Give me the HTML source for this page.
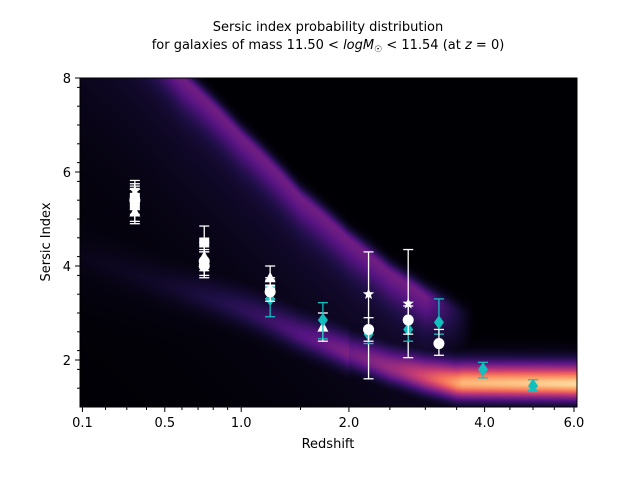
<!DOCTYPE html>
<html><head><meta charset="utf-8"><style>
body{margin:0;background:#fff;width:640px;height:480px;overflow:hidden;font-family:"DejaVu Sans","Liberation Sans",sans-serif;}
#wrap{position:relative;width:640px;height:480px;}
canvas{position:absolute;left:80px;top:78px;}
svg{position:absolute;left:0;top:0;}
</style></head><body>
<div id="wrap">
<canvas id="hm" width="497" height="329"></canvas>
<svg id="ch" width="640" height="480" font-family="DejaVu Sans, Liberation Sans, sans-serif">
<text x="328" y="31" text-anchor="middle" font-size="13">Sersic index probability distribution</text>
<text x="328" y="49" text-anchor="middle" font-size="13">for galaxies of mass 11.50 &lt; <tspan font-style="italic">logM</tspan><tspan font-size="9" dy="3">☉</tspan><tspan dy="-3"> &lt; 11.54 (at </tspan><tspan font-style="italic">z</tspan> = 0)</text>
<text x="328" y="448" text-anchor="middle" font-size="13">Redshift</text>
<text transform="translate(50,242) rotate(-90)" text-anchor="middle" font-size="13">Sersic Index</text>
<g id="axes"></g><g id="marks"></g>
</svg></div>
<script>
// data
const groupZ=[0.34,0.74,1.23,1.72,2.23,2.75,3.21,3.97,5.0];
const whiteSq=[[0.34,5.3,4.95,5.65],[0.34,5.45,5.2,5.75],[0.74,4.5,4.3,4.85],[1.23,3.5,3.3,3.75]];
const whiteCirc=[[0.34,5.4,5.1,5.7],[0.74,4.0,3.75,4.3],[0.74,4.1,3.8,4.35],[1.23,3.45,3.25,3.7],[2.23,2.65,2.4,2.9],[2.75,2.85,2.55,3.15],[3.21,2.35,2.1,2.65]];
const whiteTri=[[0.34,5.15,4.9,5.45],[0.74,4.2,3.9,4.5],[1.23,3.75,3.45,4.0],[1.72,2.7,2.4,3.0]];
const whiteStar=[[0.34,5.6,5.3,5.82],[2.23,3.4,1.6,4.3],[2.75,3.2,2.05,4.35]];
const cyanDia=[[1.23,3.3,2.92,3.55],[1.72,2.85,2.45,3.22],[2.23,2.55,2.35,2.62],[2.75,2.65,2.4,2.8],[3.21,2.8,2.55,3.3],[3.97,1.8,1.62,1.95],[5.0,1.45,1.35,1.58]];
const xTicks=[0.1,0.5,1.0,2.0,4.0,6.0];
const xTickLabels=["0.1","0.5","1.0","2.0","4.0","6.0"];
const xMinor=[0.2,0.3,0.4,0.6,0.7,0.8,0.9,1.5,2.5,3.0,3.5,4.5,5.0,5.5];
const yTicks=[2,4,6,8];
const upperBand=[[0.09,10.2],[0.6,8.0],[1.0,6.75],[1.5,5.45],[2.0,4.55],[2.5,3.85],[3.0,3.35],[3.6,2.95]];
const lowerBand=[[0.09,4.2],[0.5,3.6],[1.0,3.1],[1.5,2.55],[2.0,2.15],[2.5,1.85],[3.0,1.65],[3.5,1.52],[6.1,1.5]];
const lowerAmp=[[0.09,0.0],[0.5,0.04],[1.2,0.18],[2.0,0.36],[2.6,0.5],[3.0,0.65],[3.6,0.9],[6.1,0.95]];
const X0=80,X1=577,Y0=407,Y1=78;
const lmin=Math.log10(1.09),lmax=Math.log10(7.08);
function xs(z){return X0+(Math.log10(1+z)-lmin)/(lmax-lmin)*(X1-X0);}
function ys(n){return Y0-(n-1)/7*(Y0-Y1);}
const NS="http://www.w3.org/2000/svg";
function el(t,a,p){const e=document.createElementNS(NS,t);for(const k in a)e.setAttribute(k,a[k]);p.appendChild(e);return e;}
const ax=document.getElementById('axes'),mk=document.getElementById('marks');
// heatmap
(function(){
 const c=document.getElementById('hm'),ctx=c.getContext('2d');const im=ctx.createImageData(497,329);
 function interp(b,z){for(let i=0;i<b.length-1;i++){if(z<=b[i+1][0]){const t=(z-b[i][0])/(b[i+1][0]-b[i][0]);return b[i][1]+t*(b[i+1][1]-b[i][1]);}}return b[b.length-1][1];}
 const mag=[[0,0,0,4],[0.15,30,15,70],[0.3,85,20,130],[0.45,140,40,130],[0.6,200,60,115],[0.75,245,110,90],[0.88,252,170,110],[1,252,253,191]];
 function cmap(v){v=Math.max(0,Math.min(1,v));for(let i=0;i<mag.length-1;i++){if(v<=mag[i+1][0]){const t=(v-mag[i][0])/(mag[i+1][0]-mag[i][0]);return [0,1,2].map(k=>mag[i][k+1]+t*(mag[i+1][k+1]-mag[i][k+1]));}}return mag[mag.length-1].slice(1);}
 for(let px=0;px<497;px++){const l=lmin+(px+0.5)/497*(lmax-lmin);const z=Math.pow(10,l)-1;
  const uy=ys(interp(upperBand,z))-Y1, ly=ys(interp(lowerBand,z))-Y1;
  const ua=z<3.0?1:Math.max(0,1-(z-3.0)/0.8);
  const la=interp(lowerAmp,z);
  for(let py=0;py<329;py++){
   let d=py-uy, u;
   if(d<0)u=Math.exp(-d*d/(2*8*8));else u=Math.exp(-d*d/(2*20*20))*0.6+0.4*Math.exp(-d/110);
   u*=0.37*ua;
   let e=py-ly; let lo=Math.exp(-e*e/(2*(e<0?14:11)**2))*la;
   lo+=0.05*Math.exp(-Math.abs(e)/40)*(z<2?1:0);
   const v=Math.max(u,lo);
   const col=cmap(v);const i=(py*497+px)*4;im.data[i]=col[0];im.data[i+1]=col[1];im.data[i+2]=col[2];im.data[i+3]=255;}}
 ctx.putImageData(im,0,0);
})();
// axes frame
el('rect',{x:X0,y:Y1,width:X1-X0,height:Y0-Y1,fill:'none',stroke:'#000','stroke-width':1},ax);
xTicks.forEach((z,i)=>{const x=xs(z);el('line',{x1:x,x2:x,y1:Y0,y2:Y0+5,stroke:'#000'},ax);
 const t=el('text',{x:x,y:Y0+20,'text-anchor':'middle','font-size':13},ax);t.textContent=xTickLabels[i];
 
 });
xMinor.forEach(z=>{const x=xs(z);el('line',{x1:x,x2:x,y1:Y0,y2:Y0+3,stroke:'#000'},ax);});
yTicks.forEach(n=>{const y=ys(n);el('line',{x1:X0-5,x2:X0,y1:y,y2:y,stroke:'#000'},ax);
 const t=el('text',{x:X0-9,y:y+5,'text-anchor':'end','font-size':13},ax);t.textContent=n;
 
 });
for(let n=1.4;n<8;n+=0.4){const y=ys(n);el('line',{x1:X0-3,x2:X0,y1:y,y2:y,stroke:'#000'},ax);}
// markers
function err(p,c){const x=xs(p[0]);el('line',{x1:x,x2:x,y1:ys(p[2]),y2:ys(p[3]),stroke:c,'stroke-width':1.3},mk);
 [p[2],p[3]].forEach(v=>el('line',{x1:x-5,x2:x+5,y1:ys(v),y2:ys(v),stroke:c,'stroke-width':1.3},mk));}
function draw(arr,c,shape,name){arr.forEach(p=>{err(p,c);const x=xs(p[0]),y=ys(p[1]);let m;
 if(shape==='sq')m=el('rect',{x:x-5,y:y-5,width:10,height:10,fill:c},mk);
 else if(shape==='ci')m=el('circle',{cx:x,cy:y,r:5.5,fill:c},mk);
 else if(shape==='tr')m=el('polygon',{points:`${x},${y-6} ${x-5.5},${y+4.5} ${x+5.5},${y+4.5}`,fill:c},mk);
 else if(shape==='st'){let s='';for(let k=0;k<10;k++){const r=k%2?2.5:6,a=-Math.PI/2+k*Math.PI/5;s+=`${x+r*Math.cos(a)},${y+r*Math.sin(a)} `;}m=el('polygon',{points:s,fill:c},mk);}
 else m=el('polygon',{points:`${x},${y-7} ${x+5},${y} ${x},${y+7} ${x-5},${y}`,fill:c},mk);
 
 });}
draw(whiteSq,'#fff','sq','square-point');
draw(whiteTri,'#fff','tr','triangle-point');
draw(whiteStar,'#fff','st','star-point');
draw(cyanDia,'#12bfbf','di','diamond-point');
draw(whiteCirc,'#fff','ci','circle-point');
</script>
</body></html>
